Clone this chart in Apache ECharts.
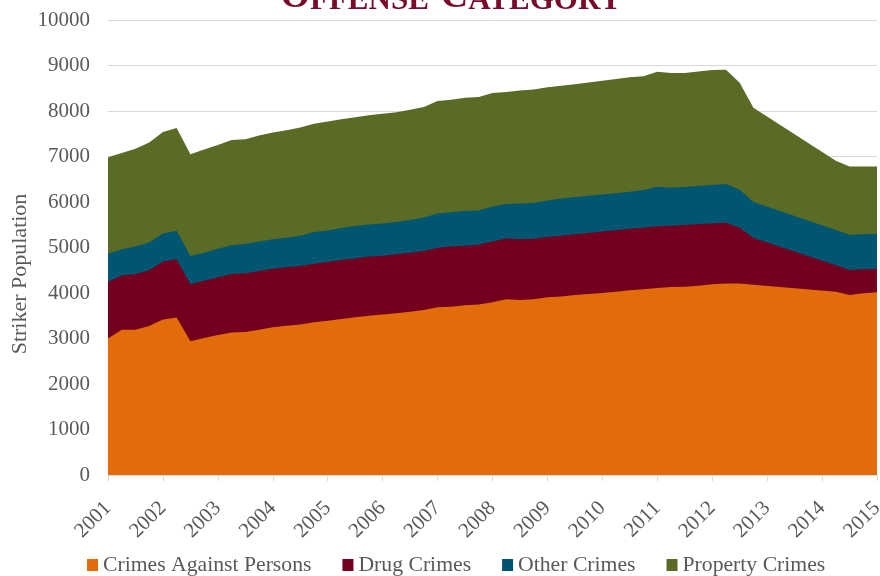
<!DOCTYPE html>
<html>
<head>
<meta charset="utf-8">
<script src="https://cdn.jsdelivr.net/npm/echarts@6/dist/echarts.min.js"></script>
<style>html,body{margin:0;padding:0;background:#fff}#c{width:880px;height:576px}</style>
</head>
<body>
<div id="c"></div>
<script>
// Quarter positions (years) at which the data points sit
const quarters = [
  2001, 2001.25, 2001.5, 2001.75, 2002, 2002.25, 2002.5, 2002.75,
  2003, 2003.25, 2003.5, 2003.75, 2004, 2004.25, 2004.5, 2004.75,
  2005, 2005.25, 2005.5, 2005.75, 2006, 2006.25, 2006.5, 2006.75,
  2007, 2007.25, 2007.5, 2007.75, 2008, 2008.25, 2008.5, 2008.75,
  2009, 2009.25, 2009.5, 2009.75, 2010, 2010.25, 2010.5, 2010.75,
  2011, 2011.25, 2011.5, 2011.75, 2012, 2012.25, 2012.5, 2012.75,
  2014.25, 2014.5, 2014.75, 2015
];
const seriesNames = ['Crimes Against Persons', 'Drug Crimes', 'Other Crimes', 'Property Crimes'];
const persons = [
  3000,3190,3195,3275,3415,3460,2940,3010,3075,3130,
  3145,3195,3245,3280,3310,3355,3390,3430,3465,3500,
  3525,3555,3590,3625,3685,3700,3730,3750,3795,3865,
  3845,3865,3905,3925,3955,3980,4000,4030,4060,4080,
  4110,4130,4140,4160,4190,4210,4210,4180,4030,3955,
  3995,4015
];
const drug = [
  1245,1195,1225,1225,1275,1280,1250,1260,1270,1290,
  1290,1290,1290,1285,1285,1290,1290,1295,1295,1300,
  1295,1295,1295,1300,1310,1320,1310,1310,1335,1335,
  1335,1325,1325,1335,1335,1340,1350,1350,1350,1355,
  1355,1350,1355,1355,1340,1335,1225,1030,580,550,
  525,510
];
const other = [
  620,575,600,610,615,630,625,615,625,630,
  640,645,645,650,665,695,695,705,710,705,
  710,710,720,735,755,755,760,755,770,755,
  785,790,805,815,815,815,815,815,815,830,
  870,835,835,835,845,850,835,790,775,770,
  770,775
];
const property = [
  2120,2115,2150,2195,2235,2255,2235,2270,2285,2315,
  2305,2330,2345,2360,2375,2380,2395,2390,2390,2400,
  2410,2410,2420,2430,2470,2475,2490,2490,2495,2465,
  2485,2495,2485,2480,2485,2490,2500,2510,2515,2500,
  2525,2520,2505,2520,2525,2510,2350,2070,1520,1505,
  1490,1480
];
const colors = ['#E36C0A', '#74001F', '#005670', '#596B24'];
const yTicks = [0, 10000, 1000];   // min, max, interval
const xTicks = [2001, 2015, 1];    // min, max, interval

const layers = [persons, drug, other, property];
// cumulative (stacked) tops
const cum = [];
layers.forEach((arr, i) => {
  cum.push(arr.map((v, j) => v + (i > 0 ? cum[i - 1][j] : 0)));
});

const FONT = 'Liberation Serif';
const TXT = '#595959';
const TITLE = '#7A0A2A';

const series = [];
for (let i = layers.length - 1; i >= 0; i--) {
  series.push({
    name: seriesNames[i],
    type: 'line',
    data: quarters.map((q, j) => [q, cum[i][j]]),
    symbol: 'none',
    lineStyle: { width: 0 },
    areaStyle: { color: colors[i], opacity: 1 },
    itemStyle: { color: colors[i] },
    z: 2 + (layers.length - i),
    animation: false
  });
}

const chart = echarts.init(document.getElementById('c'), null, { renderer: 'canvas' });
chart.setOption({
  animation: false,
  backgroundColor: '#fff',
  grid: { left: 108, right: 3, top: 20, bottom: 101, containLabel: false, outerBoundsMode: 'none' },
  legend: {
    data: seriesNames,
    left: 87,
    top: 554,
    padding: 0,
    itemWidth: 11,
    itemHeight: 12,
    itemGap: 31,
    icon: 'rect',
    textStyle: { fontFamily: FONT, fontSize: 21.7, color: TXT }
  },
  xAxis: {
    type: 'value',
    min: xTicks[0], max: xTicks[1], interval: xTicks[2],
    axisLine: { show: true, lineStyle: { color: '#D9D9D9', width: 1 } },
    axisTick: { show: true, length: 6, lineStyle: { color: '#D9D9D9' } },
    splitLine: { show: false },
    axisLabel: { rotate: 45, margin: 30, fontFamily: FONT, fontSize: 21, color: TXT, formatter: v => String(v) }
  },
  yAxis: {
    type: 'value',
    min: yTicks[0], max: yTicks[1], interval: yTicks[2],
    axisLine: { show: false },
    axisTick: { show: false },
    splitLine: { show: true, lineStyle: { color: '#D9D9D9', width: 1 } },
    axisLabel: { margin: 18, fontFamily: FONT, fontSize: 21, color: TXT, formatter: v => String(v) }
  },
  graphic: [
    {
      type: 'text',
      z: 100,
      style: {
        x: 451, y: 16,
        text: '{a|O}{b|FFENSE}{s| }{a|C}{b|ATEGORY}',
        textAlign: 'center',
        textVerticalAlign: 'bottom',
        rich: {
          a: { fontFamily: FONT, fontSize: 38, fontWeight: 'bold', fill: TITLE, verticalAlign: 'bottom' },
          b: { fontFamily: FONT, fontSize: 31, fontWeight: 'bold', fill: TITLE, verticalAlign: 'bottom' },
          s: { fontFamily: FONT, fontSize: 31, fill: TITLE, verticalAlign: 'bottom', width: 12 }
        }
      }
    },
    {
      type: 'text',
      x: 20, y: 274,
      rotation: Math.PI / 2,
      style: {
        text: 'Striker Population',
        textAlign: 'center',
        textVerticalAlign: 'middle',
        fontFamily: FONT, fontSize: 22, fill: TXT
      }
    }
  ],
  series: series
});
</script>
</body>
</html>
